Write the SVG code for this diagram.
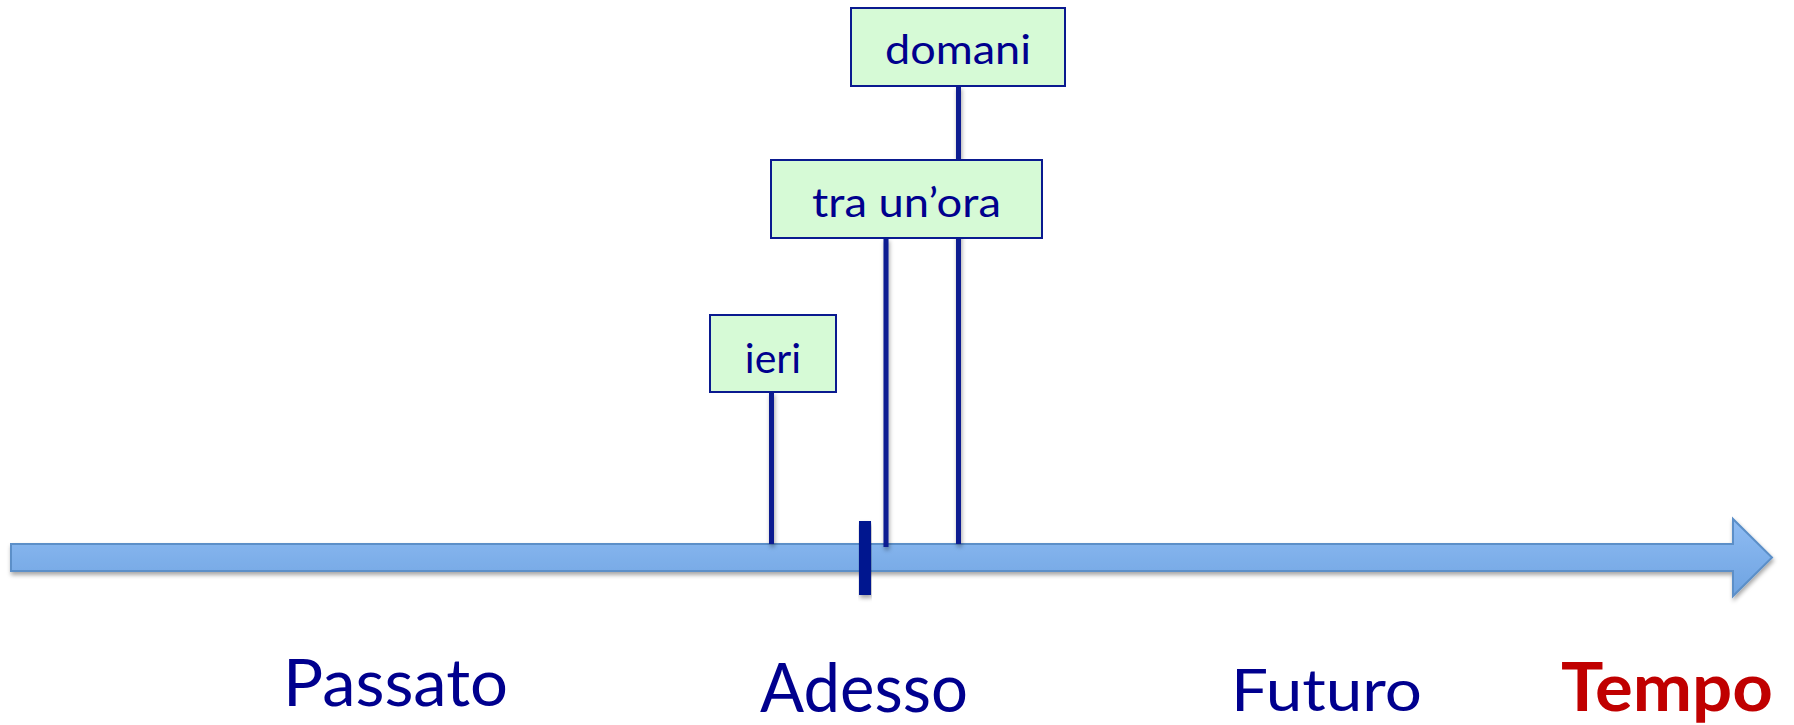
<svg xmlns="http://www.w3.org/2000/svg" width="1794" height="725" viewBox="0 0 1794 725">
  <style>
    .box { fill: #D6FAD6; stroke: #0A1A8F; stroke-width: 2; }
    .boxtext { font-family: Lato, "Open Sans", sans-serif; font-size: 41px; fill: #00008E; text-anchor: middle; }
    .stem { stroke: #0A1A91; stroke-width: 5; fill: none; }
    .label { font-family: Lato, "Open Sans", sans-serif; fill: #00008E; }
    .title { font-family: Lato, "Open Sans", sans-serif; font-weight: bold; fill: #C00000; }
  </style>
  <defs>
    <linearGradient id="barFill" x1="0" y1="0" x2="0" y2="1">
      <stop offset="0" stop-color="#8FBCF3"/>
      <stop offset="1" stop-color="#6EA3E1"/>
    </linearGradient>
    <filter id="shadow" x="-5%" y="-50%" width="110%" height="200%">
      <feDropShadow dx="1" dy="3" stdDeviation="2" flood-color="#000" flood-opacity="0.35"/>
    </filter>
  </defs>

  <!-- time axis -->
  <g id="axis">
    <path d="M11,544 H1733 V519 L1772,557.5 L1733,596 V571 H11 Z" fill="url(#barFill)" stroke="#5B8FC8" stroke-width="2" filter="url(#shadow)"/>
  </g>

  <!-- stems from each label down to the axis -->
  <g id="connectors" filter="url(#shadow)">
    <line class="stem" x1="771.5" y1="392" x2="771.5" y2="544"/>
    <line class="stem" x1="886" y1="238" x2="886" y2="547"/>
    <line class="stem" x1="958.5" y1="86" x2="958.5" y2="544"/>
  </g>

  <!-- present-moment marker -->
  <g id="now-marker">
    <rect x="859" y="521" width="12" height="74" fill="#00168F" filter="url(#shadow)"/>
  </g>

  <g id="node-ieri">
    <rect class="box" x="710" y="315" width="126" height="77"/>
    <text class="boxtext" x="773" y="373">ieri</text>
  </g>

  <g id="node-tra-un-ora">
    <rect class="box" x="771" y="160" width="271" height="78"/>
    <text class="boxtext" x="906.5" y="217" textLength="189" lengthAdjust="spacingAndGlyphs">tra un’ora</text>
  </g>

  <g id="node-domani">
    <rect class="box" x="851" y="8" width="214" height="78"/>
    <text class="boxtext" x="958" y="64" textLength="146" lengthAdjust="spacingAndGlyphs">domani</text>
  </g>

  <!-- period labels -->
  <g id="labels">
    <text class="label" x="283" y="706" font-size="66" textLength="225" lengthAdjust="spacingAndGlyphs">Passato</text>
    <text class="label" x="760" y="712" font-size="67" textLength="208" lengthAdjust="spacingAndGlyphs">Adesso</text>
    <text class="label" x="1231" y="711" font-size="59" textLength="191" lengthAdjust="spacingAndGlyphs">Futuro</text>
    <text class="title" x="1561" y="711" font-size="67" textLength="212" lengthAdjust="spacingAndGlyphs">Tempo</text>
  </g>
</svg>
